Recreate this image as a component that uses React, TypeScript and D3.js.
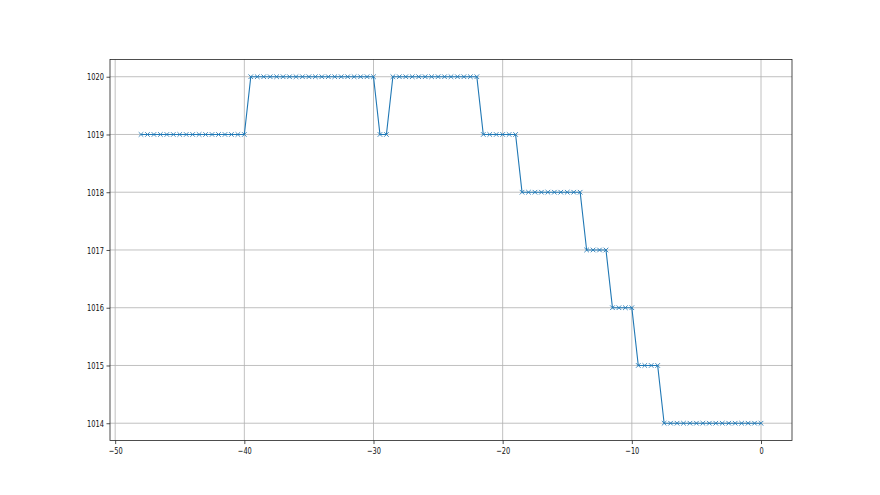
import React, { useEffect, useRef } from 'react'
import * as d3 from 'd3'

// pressure readings, one every half hour, from -48 h to now
const segmentStarts = [-48, -39.5, -29.5, -28.5, -21.5, -18.5, -13.5, -11.5, -9.5, -7.5]
const segmentEnds = [-40, -30, -29, -22, -19, -14, -12, -10, -8, 0]
const segmentValues = [1019, 1020, 1019, 1020, 1019, 1018, 1017, 1016, 1015, 1014]

const xTicks = [-50, -40, -30, -20, -10, 0]
const yTicks = [1014, 1015, 1016, 1017, 1018, 1019, 1020]

const buildPoints = () => {
  const pts: [number, number][] = []
  segmentStarts.forEach((s, i) => {
    for (let x = s; x <= segmentEnds[i] + 1e-9; x += 0.5) {
      pts.push([x, segmentValues[i]])
    }
  })
  return pts
}

const App = () => {
  const svgRef = useRef<SVGSVGElement>(null)

  useEffect(() => {
    document.body.style.margin = '0'
    const svg = d3.select(svgRef.current)
    svg.selectAll('*').remove()

    const width = 880
    const height = 495
    const left = 110
    const right = 792
    const top = 59.4
    const bottom = 440.55

    const points = buildPoints()

    const x = d3.scaleLinear().domain([-50.4, 2.4]).range([left, right])
    const y = d3.scaleLinear().domain([1013.7, 1020.3]).range([bottom, top])

    svg.append('rect').attr('width', width).attr('height', height).attr('fill', 'white')

    // grid
    const grid = svg.append('g')
    xTicks.forEach((t) => {
      grid
        .append('line')
        .attr('x1', x(t))
        .attr('x2', x(t))
        .attr('y1', top)
        .attr('y2', bottom)
        .attr('stroke', '#b0b0b0')
        .attr('stroke-width', 0.8)
    })
    yTicks.forEach((t) => {
      grid
        .append('line')
        .attr('x1', left)
        .attr('x2', right)
        .attr('y1', y(t))
        .attr('y2', y(t))
        .attr('stroke', '#b0b0b0')
        .attr('stroke-width', 0.8)
    })

    // series line
    const line = d3
      .line<[number, number]>()
      .x((d) => x(d[0]))
      .y((d) => y(d[1]))
    svg
      .append('path')
      .datum(points)
      .attr('d', line)
      .attr('fill', 'none')
      .attr('stroke', '#1f77b4')
      .attr('stroke-width', 1.1)

    // x markers
    const m = 2.3
    svg
      .append('g')
      .selectAll('path')
      .data(points)
      .enter()
      .append('path')
      .attr(
        'd',
        (d) =>
          `M${x(d[0]) - m},${y(d[1]) - m}L${x(d[0]) + m},${y(d[1]) + m}M${x(d[0]) - m},${y(d[1]) + m}L${x(d[0]) + m},${y(d[1]) - m}`
      )
      .attr('stroke', '#1f77b4')
      .attr('stroke-width', 1)
      .attr('stroke-opacity', 0.85)
      .attr('fill', 'none')

    // frame
    svg
      .append('rect')
      .attr('x', left)
      .attr('y', top)
      .attr('width', right - left)
      .attr('height', bottom - top)
      .attr('fill', 'none')
      .attr('stroke', '#222')
      .attr('stroke-width', 0.8)

    const fmt = (v: number) => String(v).replace('-', '\u2212')

    const xAxis = d3.axisBottom(x).tickValues(xTicks).tickSize(3.5).tickPadding(3.5).tickFormat((d) => fmt(+d))
    const xg = svg.append('g').attr('transform', `translate(0,${bottom})`).call(xAxis)
    const yAxis = d3.axisLeft(y).tickValues(yTicks).tickSize(3.5).tickPadding(3.5).tickFormat((d) => String(d))
    const yg = svg.append('g').attr('transform', `translate(${left},0)`).call(yAxis)
    ;[xg, yg].forEach((g) => {
      g.select('.domain').remove()
      g.selectAll('line').attr('stroke', '#222').attr('stroke-width', 0.8)
      g.selectAll('text')
        .style('font-family', 'DejaVu Sans')
        .style('font-size', '9.5px')
        .attr('fill', '#111')
    })
    // labels in the reference are horizontally squeezed
    xg.selectAll('text').attr('transform', 'scale(0.7,1)')
    yg.selectAll('text').attr('x', 0).attr('transform', 'translate(-6,0) scale(0.7,1)')
  }, [])

  return <svg ref={svgRef} width={880} height={495} style={{ display: 'block' }}></svg>
}

export default App
